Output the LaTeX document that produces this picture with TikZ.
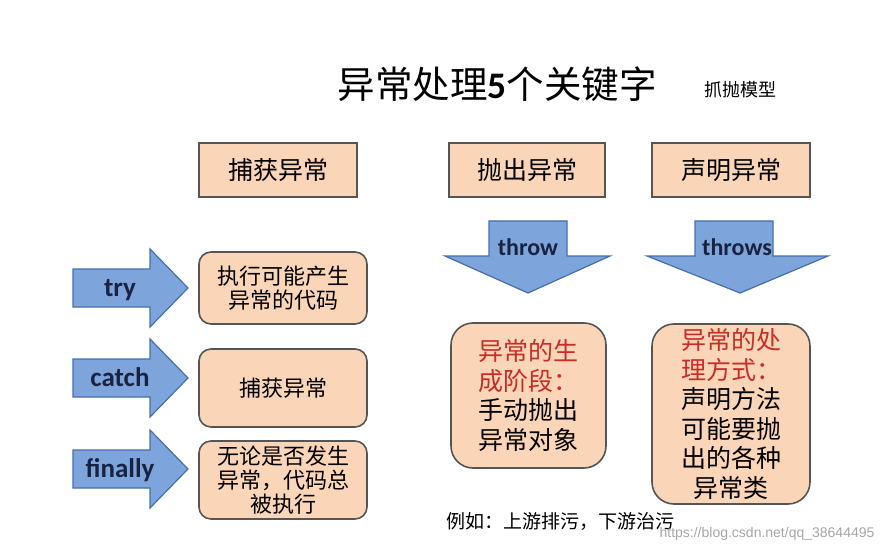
\documentclass[tikz,border=0pt]{standalone}
\usepackage{fontspec}
\setmainfont{Carlito}
\newfontfamily\cjk{Noto Sans CJK SC}
\newfontfamily\wmfont{Liberation Sans}
\definecolor{peach}{RGB}{250,213,183}
\definecolor{boxline}{RGB}{85,85,85}
\definecolor{arrfill}{RGB}{125,165,220}
\definecolor{arrline}{RGB}{70,110,170}
\definecolor{arrtext}{RGB}{25,35,65}
\definecolor{redtext}{RGB}{200,45,40}
\begin{document}
\begin{tikzpicture}[x=1pt,y=-1pt,
  headbox/.style={draw=boxline, fill=peach, line width=1.6pt, inner sep=0pt,
    font=\cjk\fontsize{25}{29}\selectfont},
  lbox/.style={draw=boxline, fill=peach, line width=1.6pt, inner sep=0pt,
    rounded corners=12pt, minimum width=168pt, align=center,
    font=\cjk\fontsize{22}{24}\selectfont},
  rbox/.style={draw=boxline, fill=peach, line width=1.6pt, inner sep=0pt,
    rounded corners=22pt, align=center,
    font=\cjk\fontsize{25}{29.5}\selectfont},
  arr/.style={draw=arrline, fill=arrfill, line width=1.2pt, line join=miter},
  arrlabel/.style={font=\bfseries\fontsize{27}{30}\selectfont, text=arrtext, inner sep=0pt},
  darrlabel/.style={font=\bfseries\fontsize{24}{28}\selectfont, text=arrtext, inner sep=0pt}
]
\useasboundingbox (0,0) rectangle (896,553);
\fill[white] (0,0) rectangle (896,553);

% title
\node[inner sep=0pt, font=\cjk\fontsize{37.5}{42}\selectfont] (title) at (497,84)
  {异常处理{\rmfamily\bfseries 5}个关键字};
\node[inner sep=0pt, font=\cjk\fontsize{18}{20}\selectfont] (model) at (740,90) {抓抛模型};

% header boxes
\node[headbox, minimum width=158pt, minimum height=54pt] (catchH) at (278,170) {捕获异常};
\node[headbox, minimum width=156pt, minimum height=54pt] (throwH) at (527,170) {抛出异常};
\node[headbox, minimum width=158pt, minimum height=54pt] (declH) at (731,170) {声明异常};

% left arrows
\foreach \yy/\nm/\txt in {288/tryA/try, 378/catchA/catch, 469/finA/finally}{
  \draw[arr] (73,\yy-19) -- (150,\yy-19) -- (150,\yy-39) -- (188,\yy)
    -- (150,\yy+39) -- (150,\yy+19) -- (73,\yy+19) -- cycle;
  \node[arrlabel, anchor=base] (\nm) at (120,\yy+8) {\txt};
}

% left boxes
\node[lbox, minimum height=72pt] (tryB) at (283,288) {执行可能产生\\异常的代码};
\node[lbox, minimum height=78pt] (catchB) at (283,388) {捕获异常};
\node[lbox, minimum height=78pt] (finB) at (283,480) {无论是否发生\\异常，代码总\\被执行};

% down arrows
\draw[arr] (489,221) -- (567,221) -- (567,256) -- (610,256) -- (528,293)
  -- (445,256) -- (489,256) -- cycle;
\node[darrlabel, anchor=base] (throwA) at (528,255) {throw};
\draw[arr] (695,221) -- (773,221) -- (773,256) -- (828,256) -- (740,293)
  -- (647,256) -- (695,256) -- cycle;
\node[darrlabel, anchor=base] (throwsA) at (737,255) {throws};

% right boxes
\node[rbox, minimum width=155pt, minimum height=145pt] (genB) at (528.5,395.5)
  {\textcolor{redtext}{异常的生}\\\textcolor{redtext}{成阶段：}\\手动抛出\\异常对象};
\node[rbox, minimum width=158pt, minimum height=180pt] (declB) at (731,414)
  {\textcolor{redtext}{异常的处}\\\textcolor{redtext}{理方式：}\\声明方法\\可能要抛\\出的各种\\异常类};

% example
\node[inner sep=0pt, font=\cjk\fontsize{19}{22}\selectfont] (example) at (560,522)
  {例如：上游排污，下游治污};
\node[inner sep=0pt, font=\wmfont\fontsize{14}{16}\selectfont, text=black!35] (wm) at (767,534)
  {https://blog.csdn.net/qq\_38644495};
\end{tikzpicture}
\end{document}
